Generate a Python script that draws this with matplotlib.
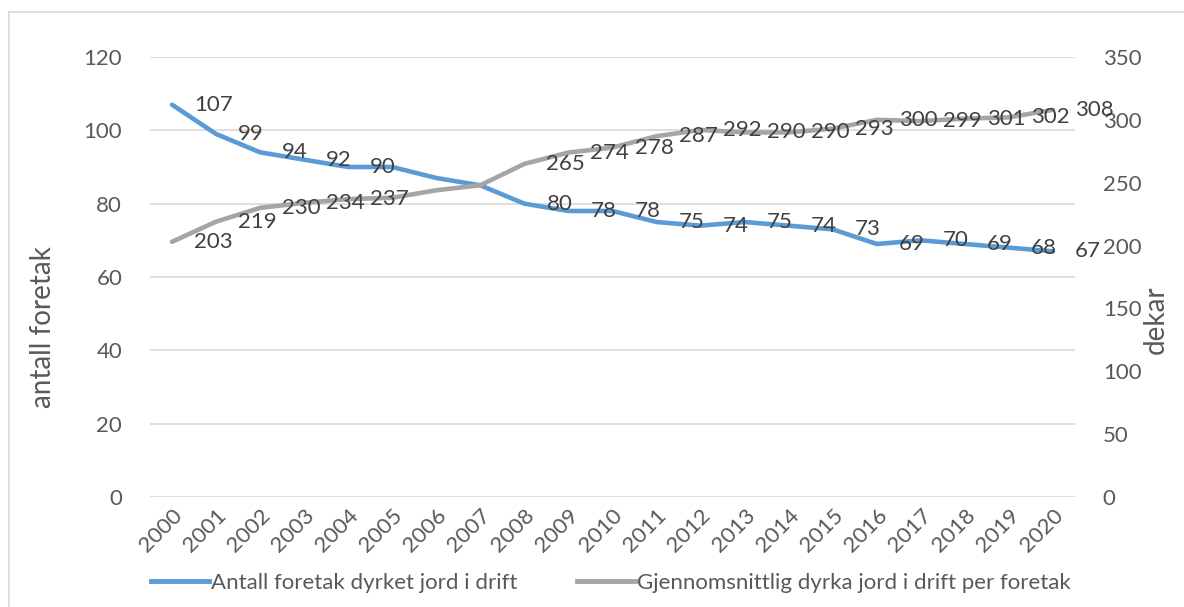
import matplotlib.pyplot as plt
import numpy as np

# Data
years = [str(y) for y in range(2000, 2021)]
antall = [107, 99, 94, 92, 90, 90, 87, 85, 80, 78, 78, 75, 74, 75, 74, 73, 69, 70, 69, 68, 67]
dekar = [203, 219, 230, 234, 237, 238, 244, 248, 265, 274, 278, 287, 292, 290, 290, 293, 300, 299, 301, 302, 308]
skjult = ['2005', '2006', '2007']  # etiketter som ikke vises

blaa = '#5B9BD5'
graa = '#A5A5A5'
tekst = '#595959'
plt.rcParams['font.family'] = ['Lato', 'DejaVu Sans']

fig = plt.figure(figsize=(11.84, 6.07), dpi=100)
ax = fig.add_axes([150/1184, 1-497/607, (1075-150)/1184, (497-57)/607])
ax2 = ax.twinx()

x = np.arange(len(years))
ax.plot(x, antall, color=blaa, lw=3.3, solid_capstyle='round', zorder=3)
ax2.plot(x, dekar, color=graa, lw=3.3, solid_capstyle='round', zorder=3)

for i, yr in enumerate(years):
    if yr in skjult:
        continue
    ax.annotate(str(antall[i]), (x[i], antall[i]), xytext=(22, 0), textcoords='offset pixels',
                ha='left', va='center', fontsize=16, color='#404040')
    ax2.annotate(str(dekar[i]), (x[i], dekar[i]), xytext=(22, 0), textcoords='offset pixels',
                 ha='left', va='center', fontsize=16, color='#404040')

ax.set_xlim(-0.5, len(years) - 0.5)
ax.set_ylim(0, 120)
ax2.set_ylim(0, 350)
ax.set_yticks(range(0, 121, 20))
ax2.set_yticks(range(0, 351, 50))
ax.set_xticks(x)
ax.set_xticklabels(years, rotation=45, ha='right', rotation_mode='anchor')
ax.grid(axis='y', color='#D9D9D9', lw=1.2)
ax.set_axisbelow(True)

for a in (ax, ax2):
    for s in a.spines.values():
        s.set_visible(False)
    a.tick_params(length=0, labelsize=16, colors=tekst)
ax.tick_params(axis='y', pad=20)
ax.tick_params(axis='x', pad=6)
ax2.tick_params(axis='y', pad=20)

fig.text(43/1184, 1-327/607, 'antall foretak', rotation=90, ha='center', va='center',
         fontsize=20, color=tekst)
fig.text(1156/1184, 1-320/607, 'dekar', rotation=90, ha='center', va='center',
         fontsize=20, color=tekst)

# Legende
h1, = ax.plot([], [], color=blaa, lw=3.5, label='Antall foretak dyrket jord i drift')
h2, = ax.plot([], [], color=graa, lw=3.5, label='Gjennomsnittlig dyrka jord i drift per foretak')
leg = fig.legend(handles=[h1, h2], loc='center', bbox_to_anchor=(611/1184, 1-583/607), ncol=2,
                 frameon=False, fontsize=16, handlelength=2.6, handletextpad=0.1,
                 columnspacing=2.7, labelcolor=tekst)

# Ramme
fig.add_artist(plt.Line2D([9/1184, 9/1184], [0, 1-12/607], color='#D9D9D9', lw=1.2))
fig.add_artist(plt.Line2D([9/1184, 1], [1-12/607, 1-12/607], color='#D9D9D9', lw=1.2))

fig.savefig('out.png', dpi=100)
